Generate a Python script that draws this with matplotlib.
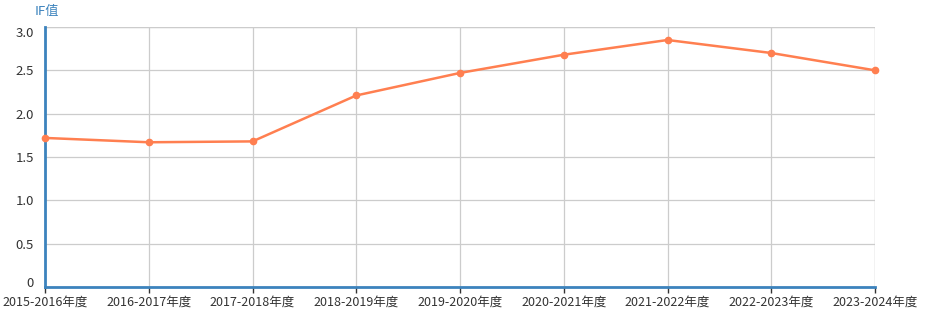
import matplotlib
matplotlib.use("Agg")
import matplotlib.pyplot as plt
import matplotlib.transforms as mtransforms

plt.rcParams['font.family'] = ['Noto Sans CJK SC', 'DejaVu Sans']

# Data
years = ['2015-2016年度', '2016-2017年度', '2017-2018年度', '2018-2019年度',
         '2019-2020年度', '2020-2021年度', '2021-2022年度', '2022-2023年度',
         '2023-2024年度']
if_values = [1.72, 1.67, 1.68, 2.21, 2.47, 2.68, 2.85, 2.70, 2.50]
y_ticks = [0, 0.5, 1.0, 1.5, 2.0, 2.5, 3.0]
y_tick_labels = ['0', '0.5', '1.0', '1.5', '2.0', '2.5', '3.0']

fig = plt.figure(figsize=(9.25, 3.33), dpi=100)
ax = fig.add_axes([45 / 925, 46 / 333, 830 / 925, 260 / 333])

x = list(range(len(years)))
ax.plot(x, if_values, color='#ff7f50', linewidth=1.8, marker='o', markersize=4.5,
        zorder=3, clip_on=False)

ax.set_xlim(0, len(years) - 1)
ax.set_ylim(0, 3.0)
ax.set_xticks(x)
ax.set_xticklabels(years)
ax.set_yticks(y_ticks)
ax.set_yticklabels(y_tick_labels)

ax.grid(True, color='#cccccc', linewidth=0.9)
ax.set_axisbelow(True)

for side in ['top', 'right']:
    ax.spines[side].set_visible(False)
for side in ['left', 'bottom']:
    ax.spines[side].set_color('#3c83bd')
    ax.spines[side].set_linewidth(2)

ax.tick_params(axis='x', length=4, width=1, color='#333333', labelsize=9,
               labelcolor='#333333', pad=2)
ax.tick_params(axis='y', length=0, labelsize=9.5, labelcolor='#333333', pad=8)

# boundary labels nudged inward like the original
ylabels = ax.get_yticklabels()
ylabels[0].set_transform(ylabels[0].get_transform() +
                         mtransforms.ScaledTranslation(0, 5 / 100, fig.dpi_scale_trans))
ylabels[-1].set_transform(ylabels[-1].get_transform() +
                          mtransforms.ScaledTranslation(0, -5 / 100, fig.dpi_scale_trans))

# Right and top borders from gridlines
ax.axvline(len(years) - 1, color='#cccccc', linewidth=0.9, zorder=0)
ax.axhline(3.0, color='#cccccc', linewidth=0.9, zorder=0)

ax.text(-0.012, 1.035, 'IF值', transform=ax.transAxes, color='#3c83bd', fontsize=9.5,
        ha='left', va='bottom')

fig.savefig('out.png', dpi=100)
